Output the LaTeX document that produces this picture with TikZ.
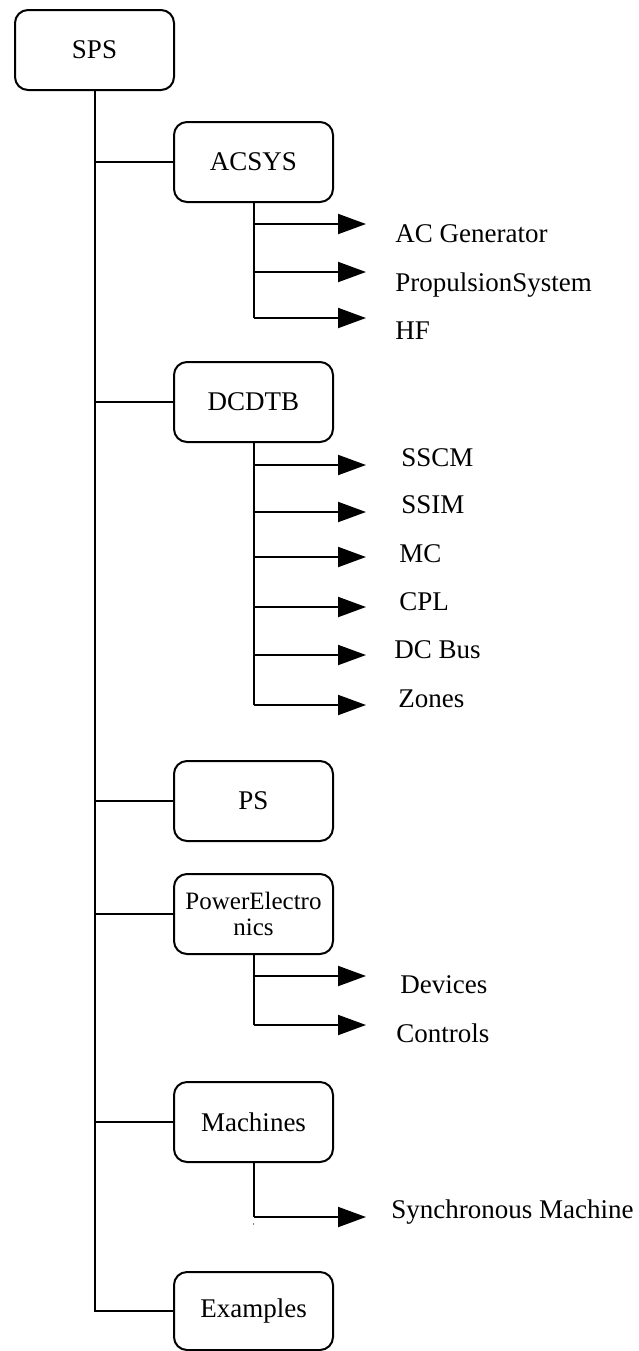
\documentclass[tikz,border=0pt]{standalone}
\usepackage{fontspec}
\setmainfont{Liberation Serif}
\usetikzlibrary{arrows.meta}

\begin{document}
\begin{tikzpicture}[x=0.5pt, y=-0.5pt,
  every node/.style={font=\fontsize{13.5}{16}\selectfont},
  box/.style={draw, line width=1pt, rounded corners=6.5pt,
    minimum width=79.5pt, minimum height=40pt, inner sep=0pt},
  leaf/.style={anchor=base west, inner sep=0pt},
  link/.style={line width=1pt},
  arr/.style={line width=1pt, -{Triangle[length=14pt, width=10pt]}}
]
\useasboundingbox (0,0) rectangle (638,1351);

% top-level and second-level boxes
\node[box] (sps)      at (94.5,50)    {SPS};
\node[box] (acsys)    at (253.5,162)  {ACSYS};
\node[box] (dcdtb)    at (253.5,402)  {DCDTB};
\node[box] (ps)       at (253.5,801)  {PS};
\node[box, align=center, font=\fontsize{12.5}{13}\selectfont] (pe) at (253.5,914) {PowerElectro\\nics};
\node[box] (machines) at (253.5,1122) {Machines};
\node[box, minimum height=39pt] (examples) at (253.5,1311) {Examples};

% main trunk and its branches
\draw[link] (sps.south) |- (examples.west);
\foreach \b in {acsys, dcdtb, ps, pe, machines}
  \draw[link] (\b.west) -- (\b.west -| sps.south);

% ACSYS leaves
\node[leaf] (acgen) at (395,242) {AC Generator};
\node[leaf] (prop)  at (395,291) {PropulsionSystem};
\node[leaf] (hf)    at (395,339) {HF};
\coordinate (a1) at (366,224);
\coordinate (a2) at (366,272);
\coordinate (a3) at (366,318);
\draw[link] (acsys.south) -- (acsys.south |- a3);
\foreach \t in {a1,a2,a3}
  \draw[arr] (acsys.south |- \t) -- (\t);

% DCDTB leaves
\node[leaf] (sscm)  at (401,466) {SSCM};
\node[leaf] (ssim)  at (401,513) {SSIM};
\node[leaf] (mc)    at (399,562) {MC};
\node[leaf] (cpl)   at (399,610) {CPL};
\node[leaf] (dcbus) at (394,658) {DC Bus};
\node[leaf] (zones) at (398,707) {Zones};
\coordinate (d1) at (366,465);
\coordinate (d2) at (366,512);
\coordinate (d3) at (366,557);
\coordinate (d4) at (366,607);
\coordinate (d5) at (366,655);
\coordinate (d6) at (366,705);
\draw[link] (dcdtb.south) -- (dcdtb.south |- d6);
\foreach \t in {d1,d2,d3,d4,d5,d6}
  \draw[arr] (dcdtb.south |- \t) -- (\t);

% PowerElectronics leaves
\node[leaf] (devices)  at (400,993)  {Devices};
\node[leaf] (controls) at (396,1042) {Controls};
\coordinate (p1) at (366,976);
\coordinate (p2) at (366,1025);
\draw[link] (pe.south) -- (pe.south |- p2);
\foreach \t in {p1,p2}
  \draw[arr] (pe.south |- \t) -- (\t);

% Machines leaf
\node[leaf] (sync) at (391,1218) {Synchronous Machine};
\coordinate (m1) at (366,1217);
\draw[link] (machines.south) -- (machines.south |- m1);
\draw[arr] (machines.south |- m1) -- (m1);
\fill (machines.south |- 0,1224) circle (0.7);
\end{tikzpicture}
\end{document}
